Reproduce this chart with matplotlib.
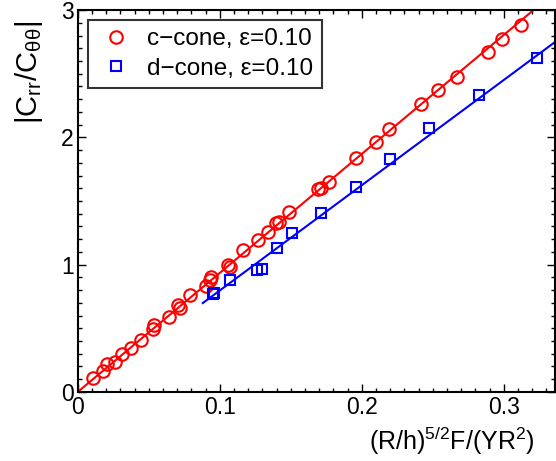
import numpy as np
import matplotlib
matplotlib.use("Agg")
import matplotlib.pyplot as plt
from matplotlib.ticker import MultipleLocator

plt.rcParams['font.family'] = ['Liberation Sans', 'DejaVu Sans']
plt.rcParams['mathtext.fontset'] = 'custom'
plt.rcParams['mathtext.rm'] = 'Liberation Sans'
plt.rcParams['mathtext.default'] = 'regular'

# c-cone data (red circles)
c_x = [0.0108, 0.0178, 0.0206, 0.026, 0.031, 0.0377, 0.0447, 0.0529, 0.0534,
       0.064, 0.0705, 0.0717, 0.0787, 0.090, 0.0928, 0.0935, 0.106, 0.107,
       0.116, 0.127, 0.134, 0.1396, 0.142, 0.149, 0.169, 0.171, 0.1766,
       0.1958, 0.210, 0.219, 0.242, 0.254, 0.267, 0.289, 0.299, 0.312]
c_y = [0.112, 0.167, 0.217, 0.238, 0.298, 0.348, 0.408, 0.492, 0.526,
       0.592, 0.683, 0.657, 0.762, 0.833, 0.880, 0.900, 0.998, 0.984,
       1.115, 1.194, 1.259, 1.33, 1.338, 1.41, 1.595, 1.60, 1.652,
       1.836, 1.966, 2.063, 2.26, 2.37, 2.477, 2.673, 2.773, 2.883]

# d-cone data (blue squares)
d_x = [0.0949, 0.0956, 0.107, 0.126, 0.1298, 0.140, 0.151, 0.171, 0.196,
       0.220, 0.247, 0.2825, 0.3235]
d_y = [0.77, 0.78, 0.88, 0.958, 0.964, 1.128, 1.25, 1.404, 1.613,
       1.827, 2.07, 2.333, 2.62]

# linear fits
c_slope = 9.35
d_slope, d_icpt = 8.27, -0.03
c_fit_x = np.array([0.0, 0.34])
d_fit_x = np.array([0.088, 0.34])

fig = plt.figure(figsize=(5.56, 4.61), dpi=100)
ax = fig.add_axes([0.140, 0.150, 0.858, 0.828])

ax.plot(c_fit_x, c_slope * c_fit_x, color='red', lw=1.5)
ax.plot(d_fit_x, d_slope * d_fit_x + d_icpt, color='blue', lw=1.5)
ax.plot(c_x, c_y, 'o', mfc='none', mec='red', ms=9, mew=1.5,
        label='c\u2212cone, \u03b5=0.10')
ax.plot(d_x, d_y, 's', mfc='none', mec='blue', ms=6.5, mew=1.5,
        label='d\u2212cone, \u03b5=0.10')

ax.set_xlim(0, 0.336)
ax.set_ylim(0, 3)
ax.set_xticks([0, 0.1, 0.2, 0.3])
ax.set_xticklabels(['0', '0.1', '0.2', '0.3'])
ax.set_yticks([0, 1, 2, 3])
ax.xaxis.set_minor_locator(MultipleLocator(0.01))
ax.yaxis.set_minor_locator(MultipleLocator(0.1))
ax.tick_params(which='both', direction='in', top=True, right=True,
               labelsize=16.5, width=1, pad=3)
ax.tick_params(which='major', length=6)
ax.tick_params(which='minor', length=3)
for s in ax.spines.values():
    s.set_linewidth(1.5)

handles, labels = ax.get_legend_handles_labels()
leg = ax.legend(handles, labels, loc='upper left', fontsize=17.5, frameon=True,
                fancybox=False, edgecolor='black', borderpad=0.35,
                handletextpad=0.5, handlelength=1.6, borderaxespad=0.4,
                labelspacing=0.3)
leg.get_frame().set_linewidth(1.5)

fig.text(0.052, 0.955, r'$|C_{rr}/C_{\theta\theta}|$', rotation=90,
         ha='center', va='top', fontsize=21)
fig.text(0.962, 0.024, r'$(R/h)^{5/2}F/(YR^{2})$', ha='right', va='baseline',
         fontsize=18)

fig.savefig('out.png', dpi=100)
